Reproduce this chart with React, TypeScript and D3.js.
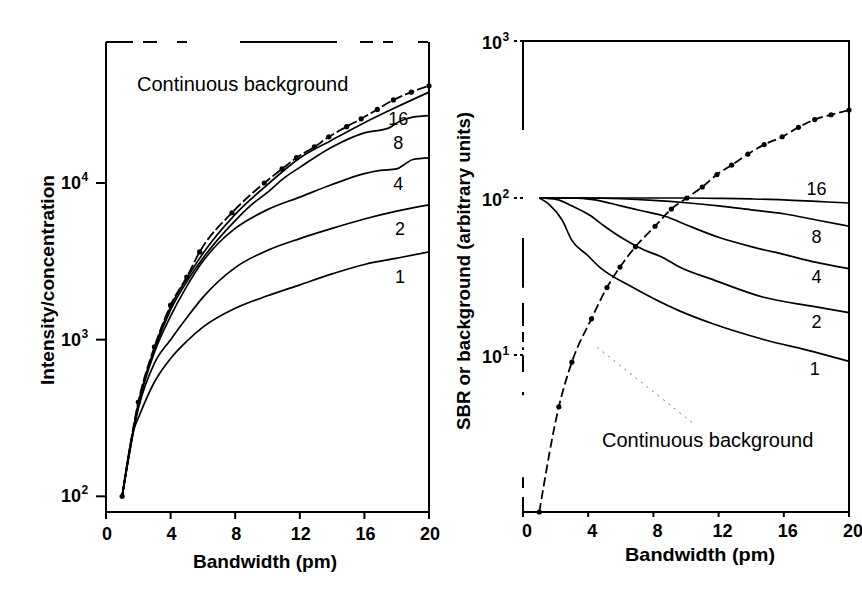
import React from 'react';
import * as d3 from 'd3';

// ---------- shared ----------
const xTicks = [0, 4, 8, 12, 16, 20];
const seriesLabels = ['16', '8', '4', '2', '1'];
const leftYTicks = [100, 1000, 10000];
const leftYTickExp = ['2', '3', '4'];
const rightYTicks = [10, 100, 1000];
const rightYTickExp = ['1', '2', '3'];

// ---------- left panel: Intensity/concentration ----------
const leftBgX = [1, 2, 3, 4, 5, 5.8, 7.8, 9.8, 10.9, 11.8, 12.9, 13.8, 14.9, 15.8, 16.8, 17.8, 18.9, 20];
const leftBgY = [100, 400, 900, 1660, 2510, 3630, 6460, 10000, 12300, 14500, 17000, 19700, 22900, 25700, 29500, 33900, 38000, 41700];
const left16X = [1, 2, 3, 4, 5, 6, 8, 10, 12, 14, 16, 18, 20];
const left16Y = [100, 389, 881, 1622, 2455, 3548, 6310, 9772, 14454, 18836, 24266, 30549, 38019];
const left8X = [1, 2, 3, 4, 5, 6, 8, 9, 10, 11, 12, 14, 16, 17.5, 18.1, 19, 20];
const left8Y = [100, 385, 861, 1549, 2344, 3311, 5754, 7244, 8710, 10715, 12589, 16982, 20893, 22387, 24547, 26303, 26915];
const left4X = [1, 2, 3, 4, 5, 6, 7, 8, 10, 12, 14, 16, 17, 18, 18.5, 19, 20];
const left4Y = [100, 380, 832, 1413, 2188, 3162, 4169, 5129, 6761, 8128, 9772, 11482, 12023, 12303, 13183, 14125, 14454];
const left2X = [1, 2, 3, 4, 5, 6, 8, 10, 12, 14, 16, 18, 20];
const left2Y = [100, 363, 708, 1000, 1380, 1862, 2884, 3715, 4416, 5129, 5888, 6607, 7244];
const left1X = [1, 1.7, 2, 3, 4, 5, 6, 8, 10, 12, 14, 16, 18, 20];
const left1Y = [100, 263, 316, 537, 759, 977, 1202, 1585, 1905, 2239, 2630, 3020, 3311, 3631];
const leftLabelX = [18.1, 18.1, 18.1, 18.2, 18.2];
const leftLabelY = [23500, 16600, 9020, 4660, 2300];
const leftNoteX = 1.92;
const leftNoteY = 38600;

// ---------- right panel: SBR / background ----------
const rightBgX = [1, 2.2, 3, 4.2, 5.15, 5.95, 6.9, 8.1, 9.1, 10.05, 11, 11.9, 12.8, 13.8, 14.8, 15.9, 16.9, 17.9, 18.9, 20];
const rightBgY = [1, 4.68, 9.02, 17.0, 26.9, 36.3, 49.0, 66.1, 85.1, 100, 117.5, 141, 162, 190.5, 219, 245.5, 282, 316, 339, 363];
const right16X = [1, 4, 8, 10, 12, 14, 16, 18, 20];
const right16Y = [100, 100, 100, 100, 99.5, 98.6, 97.3, 95.1, 92.9];
const right8X = [1, 4, 6, 8, 10, 12, 14, 16, 18, 20];
const right8Y = [100, 100, 98.9, 96.6, 93.3, 89.1, 84.1, 79.4, 72.4, 66.1];
const right4X = [1, 3, 4.3, 6, 7.2, 8.8, 10, 12, 14, 16, 18, 20];
const right4Y = [100, 100, 97.7, 89.1, 83.2, 75.9, 67.6, 56.2, 49.0, 43.7, 38.9, 35.5];
const right2X = [1, 2.1, 3, 4.1, 5, 6, 7.4, 8.6, 9.6, 11.65, 14.7, 17.8, 20];
const right2Y = [100, 97.7, 89.1, 77.6, 66.1, 56.2, 46.8, 41.7, 36.3, 30.2, 23.4, 20.4, 18.6];
const right1X = [1, 1.65, 2.4, 3.0, 3.9, 4.7, 6.75, 9.6, 11.65, 14.7, 17.8, 20];
const right1Y = [100, 90.2, 72.4, 53.7, 43.7, 36.3, 26.9, 19.1, 15.8, 12.6, 10.5, 9.12];
const rightLabelX = [18, 18, 18, 18, 17.9];
const rightLabelY = [104.5, 51.7, 28.7, 14.9, 7.46];
const rightNoteX = 4.85;
const rightNoteY = 2.59;
const leaderX = [4.55, 10.4];
const leaderY = [11.2, 3.7];

const FONT = '"Liberation Sans", Arial, Helvetica, sans-serif';

const zip = (xs: number[], ys: number[]) => xs.map((x, i) => [x, ys[i]] as [number, number]);

export default function App() {
  const lx = d3.scaleLinear().domain([0, 20]).range([106, 429]);
  const ly = d3.scaleLog().domain([Math.pow(10, 1.9), Math.pow(10, 4.9)]).range([512, 42]);
  const rx = d3.scaleLinear().domain([0, 20]).range([523, 849]);
  const ry = d3.scaleLog().domain([1, 1000]).range([512, 41]);

  const lLine = d3.line<[number, number]>().x(d => lx(d[0])).y(d => ly(d[1])).curve(d3.curveMonotoneX);
  const rLine = d3.line<[number, number]>().x(d => rx(d[0])).y(d => ry(d[1])).curve(d3.curveMonotoneX);

  const leftCurves = [zip(left16X, left16Y), zip(left8X, left8Y), zip(left4X, left4Y), zip(left2X, left2Y), zip(left1X, left1Y)];
  const rightCurves = [zip(right16X, right16Y), zip(right8X, right8Y), zip(right4X, right4Y), zip(right2X, right2Y), zip(right1X, right1Y)];
  const leftBg = zip(leftBgX, leftBgY);
  const rightBg = zip(rightBgX, rightBgY);

  const [lx0, lx1] = lx.range();
  const [ly0, ly1] = ly.range();
  const [rx0, rx1] = rx.range();
  const [ry0, ry1] = ry.range();

  // broken (scanned) left axis of the right panel, as fractions of its height from the top
  const brokenAxis = [[0, 0.189], [0.418, 0.524], [0.556, 0.605], [0.618, 0.639], [0.65, 0.656], [0.667, 0.703], [0.745, 0.752], [0.926, 0.949], [0.968, 1]];
  const H = ry0 - ry1;

  return (
    <svg width={862} height={602} viewBox="0 0 862 602"
      style={{ position: 'absolute', left: 0, top: 0, background: '#fff', fontFamily: FONT }}>
      <rect x={0} y={0} width={862} height={602} fill="#fff" />

      {/* ===== LEFT PANEL ===== */}
      <g stroke="#000" strokeWidth={2} fill="none">
        <line x1={lx0} y1={ly0} x2={lx0} y2={ly1} />
        <line x1={lx0 - 1} y1={ly0} x2={lx1 + 1} y2={ly0} />
        <line x1={lx1} y1={ly0} x2={lx1} y2={ly1} />
        <line x1={lx0} y1={ly1} x2={lx1} y2={ly1} strokeDasharray="27 10 14 20 10 53 97 23 13 10 10 25 10" />
      </g>
      {xTicks.map(t => (
        <g key={'lxt' + t}>
          <line x1={lx(t)} x2={lx(t)} y1={ly0} y2={ly0 + 7} stroke="#000" strokeWidth={2} />
          <text x={lx(t) + 1} y={540} textAnchor="middle" fontSize={18} fontWeight="bold">{t}</text>
        </g>
      ))}
      {leftYTicks.map((t, i) => (
        <g key={'lyt' + t}>
          <line x1={lx0 - 10} x2={lx0} y1={ly(t)} y2={ly(t)} stroke="#000" strokeWidth={2} />
          <text x={81} y={ly(t) + 6} textAnchor="end" fontSize={18} fontWeight="bold">10</text>
          <text x={81.5} y={ly(t) - 2} textAnchor="start" fontSize={12} fontWeight="bold">{leftYTickExp[i]}</text>
        </g>
      ))}
      <text x={265} y={568} textAnchor="middle" fontSize={19} fontWeight="bold"
        textLength={144} lengthAdjust="spacingAndGlyphs">Bandwidth (pm)</text>
      <text transform="translate(54,280) rotate(-90)" textAnchor="middle" fontSize={19} fontWeight="bold"
        textLength={210} lengthAdjust="spacingAndGlyphs">Intensity/concentration</text>

      {leftCurves.map((c, i) => (
        <path key={'lc' + i} d={lLine(c) || ''} fill="none" stroke="#000" strokeWidth={1.7} />
      ))}
      <path d={lLine(leftBg) || ''} fill="none" stroke="#000" strokeWidth={1.8} strokeDasharray="10 3" />
      {leftBg.map((p, i) => (
        <circle key={'lbm' + i} cx={lx(p[0])} cy={ly(p[1])} r={2.6} fill="#000" />
      ))}
      {seriesLabels.map((s, i) => (
        <text key={'ll' + s} x={lx(leftLabelX[i])} y={ly(leftLabelY[i])} textAnchor="middle" fontSize={18}>{s}</text>
      ))}
      <text x={lx(leftNoteX)} y={ly(leftNoteY)} fontSize={20}>Continuous background</text>

      {/* ===== RIGHT PANEL ===== */}
      <g stroke="#000" strokeWidth={2} fill="none">
        <line x1={rx0 - 1} y1={ry1} x2={rx1 + 1} y2={ry1} />
        <line x1={rx1} y1={ry1} x2={rx1} y2={ry0} />
        <line x1={rx0 - 1} y1={ry0} x2={rx1 + 1} y2={ry0} />
        {brokenAxis.map((s, i) => (
          <line key={'ba' + i} x1={rx0} x2={rx0} y1={ry1 + s[0] * H} y2={ry1 + s[1] * H} />
        ))}
      </g>
      {xTicks.map(t => (
        <g key={'rxt' + t}>
          <line x1={rx(t)} x2={rx(t)} y1={ry0} y2={ry0 + 5} stroke="#000" strokeWidth={2} />
          <text x={rx(t) + 4} y={537} textAnchor="middle" fontSize={18} fontWeight="bold">{t}</text>
        </g>
      ))}
      {rightYTicks.map((t, i) => (
        <g key={'ryt' + t}>
          <line x1={rx0 - 9} x2={rx0} y1={ry(t)} y2={ry(t)} stroke="#000" strokeWidth={2} strokeDasharray="3 3" />
          <text x={502} y={ry(t) + 8} textAnchor="end" fontSize={18} fontWeight="bold">10</text>
          <text x={502.5} y={ry(t)} textAnchor="start" fontSize={12} fontWeight="bold">{rightYTickExp[i]}</text>
        </g>
      ))}
      <text x={700} y={561} textAnchor="middle" fontSize={19} fontWeight="bold"
        textLength={150} lengthAdjust="spacingAndGlyphs">Bandwidth (pm)</text>
      <text transform="translate(470,271) rotate(-90)" textAnchor="middle" fontSize={18.5} fontWeight="bold"
        textLength={318} lengthAdjust="spacingAndGlyphs">SBR or background (arbitrary units)</text>

      {rightCurves.map((c, i) => (
        <path key={'rc' + i} d={rLine(c) || ''} fill="none" stroke="#000" strokeWidth={1.7} />
      ))}
      <path d={rLine(rightBg) || ''} fill="none" stroke="#000" strokeWidth={1.8} strokeDasharray="9 4" />
      {rightBg.map((p, i) => (
        <circle key={'rbm' + i} cx={rx(p[0])} cy={ry(p[1])} r={2.6} fill="#000" />
      ))}
      <line x1={rx(leaderX[0])} y1={ry(leaderY[0])} x2={rx(leaderX[1])} y2={ry(leaderY[1])}
        stroke="#777" strokeWidth={1} strokeDasharray="2 5" />
      {seriesLabels.map((s, i) => (
        <text key={'rl' + s} x={rx(rightLabelX[i])} y={ry(rightLabelY[i])} textAnchor="middle" fontSize={18}>{s}</text>
      ))}
      <text x={rx(rightNoteX)} y={ry(rightNoteY)} fontSize={20}>Continuous background</text>
    </svg>
  );
}
